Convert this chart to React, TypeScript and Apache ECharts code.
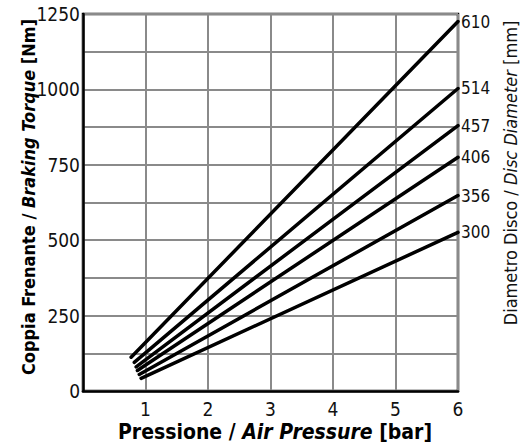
import React, { useEffect, useRef } from "react";
import * as echarts from "echarts";

const diameters = ["610", "514", "457", "406", "356", "300"];
const startPressure = [0.77, 0.82, 0.85, 0.87, 0.9, 0.93];
const startTorque = [112, 95, 80, 68, 55, 42];
const endPressure = [6, 6, 6, 6, 6, 6];
const endTorque = [1225, 1003, 880, 775, 648, 526];
const xTicks = [1, 2, 3, 4, 5, 6];
const yTicks = [0, 250, 500, 750, 1000, 1250];

const FONT = "'DejaVu Sans Condensed', 'Liberation Sans Narrow', 'DejaVu Sans', sans-serif";

export default function App() {
  const ref = useRef<HTMLDivElement>(null);
  useEffect(() => {
    if (!ref.current) return;
    const chart = echarts.init(ref.current, undefined, { renderer: "svg" });
    const series = diameters.map((d, i) => ({
      type: "line" as const,
      name: d,
      data: [
        [startPressure[i], startTorque[i]],
        [endPressure[i], endTorque[i]],
      ],
      symbol: "none",
      lineStyle: { color: "#000", width: 3.5, cap: "round" },
      endLabel: {
        show: true,
        formatter: d,
        fontFamily: FONT,
        fontSize: 17,
        fontWeight: "normal",
        color: "#111",
        distance: 3,
      },
      z: 5,
    }));
    chart.setOption({
      animation: false,
      backgroundColor: "#fff",
      grid: {
        left: 83,
        top: 14,
        right: 71,
        bottom: 52,
        show: true,
        borderColor: "#000",
        borderWidth: 2.5,
      },
      xAxis: {
        type: "value",
        min: 0,
        max: 6,
        interval: 1,
        axisLine: { show: true, lineStyle: { color: "#000", width: 2.5 } },
        axisTick: { show: false },
        splitLine: { show: true, lineStyle: { color: "#8a8a8a", width: 2 } },
        axisLabel: {
          fontFamily: FONT,
          fontSize: 19,
          color: "#111",
          margin: 8,
          formatter: (v: number) => (xTicks.includes(v) ? String(v) : ""),
        },
      },
      yAxis: {
        type: "value",
        min: 0,
        max: 1250,
        interval: 125,
        axisLine: { show: true, lineStyle: { color: "#000", width: 2.5 } },
        axisTick: { show: false },
        splitLine: { show: true, lineStyle: { color: "#8a8a8a", width: 2 } },
        axisLabel: {
          fontFamily: FONT,
          fontSize: 19,
          color: "#111",
          margin: 3,
          formatter: (v: number) => (yTicks.includes(v) ? String(v) : ""),
        },
      },
      series,
      graphic: [
        {
          type: "text",
          x: 275,
          y: 432,
          style: {
            text: "{b|Pressione / }{bi|Air Pressure}{b| [bar]}",
            align: "center",
            verticalAlign: "middle",
            rich: {
              b: { fontFamily: FONT, fontSize: 21, fontWeight: "bold", fill: "#000" },
              bi: { fontFamily: FONT, fontSize: 21, fontWeight: "bold", fontStyle: "italic", fill: "#000" },
            },
          },
        },
        {
          type: "text",
          x: 28,
          y: 197,
          rotation: Math.PI / 2,
          style: {
            text: "{b|Coppia Frenante / }{bi|Braking Torque}{b| [Nm]}",
            align: "center",
            verticalAlign: "middle",
            rich: {
              b: { fontFamily: FONT, fontSize: 18, fontWeight: "bold", fill: "#000" },
              bi: { fontFamily: FONT, fontSize: 18, fontWeight: "bold", fontStyle: "italic", fill: "#000" },
            },
          },
        },
        {
          type: "text",
          x: 510,
          y: 173,
          rotation: Math.PI / 2,
          style: {
            text: "{n|Diametro Disco / }{i|Disc Diameter}{n| [mm]}",
            align: "center",
            verticalAlign: "middle",
            rich: {
              n: { fontFamily: FONT, fontSize: 18, fill: "#111" },
              i: { fontFamily: FONT, fontSize: 18, fontStyle: "italic", fill: "#111" },
            },
          },
        },
      ],
    });
    return () => chart.dispose();
  }, []);
  return (
    <div
      ref={ref}
      style={{ position: "fixed", left: 0, top: 0, width: 529, height: 443 }}
    />
  );
}
